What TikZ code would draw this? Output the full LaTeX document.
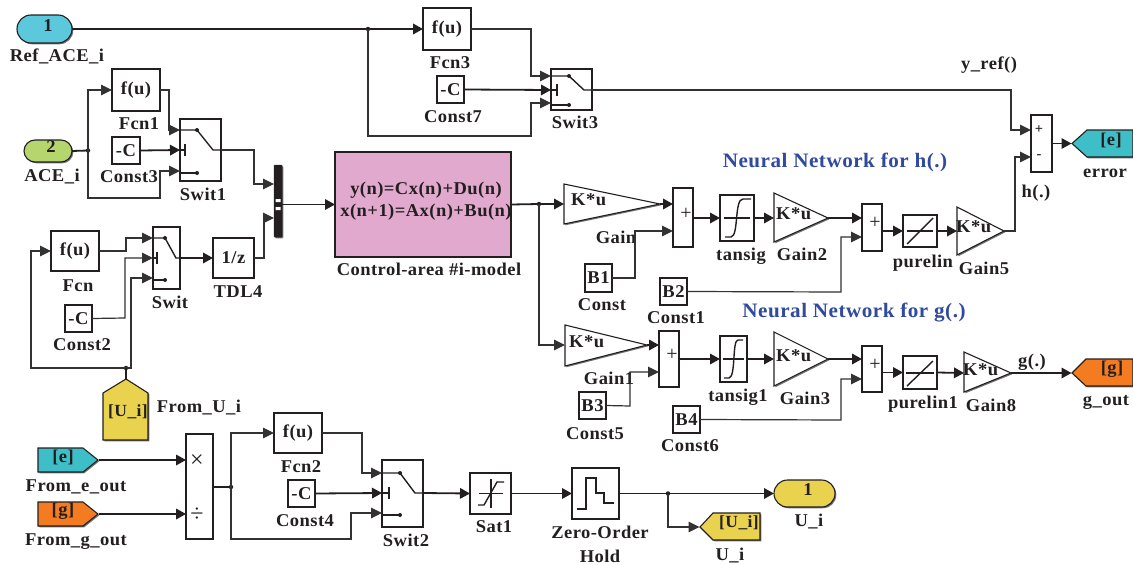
\documentclass[tikz,border=0pt]{standalone}
\usepackage{fontspec}
\setmainfont{Liberation Serif}[LetterSpace=2.5,FakeStretch=1.03]
\newfontfamily\plainf{Liberation Serif}
\usetikzlibrary{arrows.meta,shadows,calc}
\definecolor{ink}{HTML}{231F20}
\definecolor{wiregray}{HTML}{333132}
\definecolor{cyanport}{HTML}{5BC8DC}
\definecolor{greenport}{HTML}{B4D66C}
\definecolor{pinkblock}{HTML}{E1A9CE}
\definecolor{tealflag}{HTML}{3EBFC8}
\definecolor{orangeflag}{HTML}{F47B20}
\definecolor{yellowflag}{HTML}{E8D24E}
\definecolor{titleblue}{HTML}{2F4A9E}
\tikzset{
  shad/.style={drop shadow={shadow xshift=1.3pt,shadow yshift=-1.3pt,fill=black,opacity=.55}},
  blk/.style={draw=ink,line width=1.1pt,fill=white,outer sep=0pt,inner sep=0pt,shad},
  ghost/.style={inner sep=0pt,outer sep=0pt},
  poly/.style={draw=ink,line width=1.1pt,shad},
  lbl/.style={anchor=base,yshift=-6pt,inner sep=0pt},
  gtxt/.style={anchor=west,inner sep=0pt},
  wire/.style={draw=ink,line width=1.8pt},
  wirea/.style={wire,-{Triangle[length=10pt,width=10.5pt]}},
  thinw/.style={draw=wiregray,line width=1.2pt},
  thina/.style={thinw,-{Triangle[length=11pt,width=10.5pt]}},
  dot/.style={circle,fill=ink,inner sep=0pt,minimum size=4.5pt,outer sep=0pt},
  inner/.style={draw=ink,line width=1.4pt},
  every node/.style={font=\bfseries\fontsize{18}{20}\selectfont,text=ink},
  plainsym/.style={inner sep=0pt,font=\plainf\fontsize{20}{20}\selectfont},
  titlefont/.style={inner sep=0pt,text=titleblue,font=\bfseries\fontsize{20.5}{22}\selectfont},
  smallsign/.style={inner sep=0pt,font=\bfseries\fontsize{14}{14}\selectfont},
  flagtext/.style={inner sep=0pt,font=\bfseries\fontsize{17}{18}\selectfont},
}
\newcommand{\bk}[7][]{\node[blk,minimum width={(#5-#3)*1pt},minimum height={(#6-#4)*1pt},#1] (#2) at ({(#3+#5)/2},{(#4+#6)/2}) {#7};}
\newcommand{\lab}[4]{\node[lbl] (#1) at (#2,#3) {#4};}
% gain triangle: name x1 y1 x2 y2 apexy; base and apex are the west and east of a ghost node
\newcommand{\tri}[6]{\path[poly,fill=white] (#2,#3) -- (#4,#6) -- (#2,#5) -- cycle;
  \node[ghost,minimum width={(#4-#2)*1pt},minimum height=1pt] (#1) at ({(#2+#4)/2},#6) {};}
% switch frame and its ports
\newcommand{\swit}[8]{\bk{#1}{#2}{#3}{#4}{#5}{}%
  \coordinate (#1-a) at (#2,#6); \coordinate (#1-b) at (#2,#7); \coordinate (#1-c) at (#2,#8);
  \coordinate (#1-o) at (#4,#7);
  \def\swxl{#2}\def\swxr{#4}\def\swya{#6}\def\swyb{#7}\def\swyc{#8}}
% switch contact: dot x, pivot x, bar x
\newcommand{\switin}[3]{\draw[inner] (\swxl,\swya) -- (#1,\swya) -- (#2,\swyb) -- (\swxr,\swyb);
  \draw[inner] (\swxl,\swyb) -- (#3,\swyb); \draw[inner,line width=1.2pt] (#3,\swyb-6) -- (#3,\swyb+6);
  \draw[inner] (\swxl,\swyc+2) -- (#1,\swyc+2);
  \fill[ink] (#1,\swya) circle (2pt) (#1,\swyc+2) circle (2pt);}
\begin{document}
\begin{tikzpicture}[x=1pt,y=-1pt]
\useasboundingbox (0,0) rectangle (1133,565);
% ports
\node[blk,fill=cyanport,minimum width=55pt,minimum height=28pt,rounded corners=14pt] (ref) at (44.5,29) {};
\node[inner sep=0pt] (reft) at (48,26) {1};
\lab{refl}{57}{55}{Ref\_ACE\_i}
\node[blk,fill=greenport,minimum width=48pt,minimum height=22pt,rounded corners=11pt] (ace) at (48,151) {};
\node[inner sep=0pt] (acet) at (51,147) {2};
\lab{acel}{52}{175}{ACE\_i}
% function and constant blocks
\bk{fcn3}{423}{8}{471}{50}{f(u)}
\lab{fcn3l}{450}{62}{Fcn3}
\bk{c7}{437}{76}{464}{103}{-C}
\lab{c7l}{453}{116}{Const7}
\bk{fcn1}{112}{69}{160}{111}{f(u)}
\lab{fcn1l}{139}{123}{Fcn1}
\bk{c3}{112}{137}{140}{164}{-C}
\lab{c3l}{129}{176}{Const3}
\bk{fcn}{51}{231}{99}{271}{f(u)}
\lab{fcnl}{78}{285}{Fcn}
\bk{c2}{65}{305}{92}{332}{-C}
\lab{c2l}{82}{344}{Const2}
\bk{tdl}{213}{238}{254}{278}{1/z}
\lab{tdll}{238}{291}{TDL4}
\bk{fcn2}{274}{413}{322}{453}{f(u)}
\lab{fcn2l}{301}{466}{Fcn2}
\bk{c4}{288}{480}{315}{507}{-C}
\lab{c4l}{305}{520}{Const4}
% switches
\swit{sw3}{551}{69}{592}{110}{76}{90}{103}\switin{569}{584}{557}
\lab{sw3l}{575}{122}{Swit3}
\swit{sw1}{180}{119}{221}{181}{130}{150}{171}\switin{197}{213}{185}
\lab{sw1l}{203}{194}{Swit1}
\swit{sw}{153}{227}{180}{289}{238}{258}{278}\switin{165}{176}{157}
\lab{swl}{170}{302}{Swit}
\swit{sw2}{382}{460}{423}{527}{473}{493}{513}\switin{400}{415}{389}
\lab{sw2l}{406}{540}{Swit2}
% mux
\node[draw=ink,fill=ink,line width=.5pt,outer sep=0pt,inner sep=0pt,minimum width=8pt,minimum height=72pt,rounded corners=.8pt,shad] (mux) at (278,201) {};
\fill[white] (275.5,199) rectangle (280.5,202) (275.5,207) rectangle (280.5,210);
% plant
\node[draw=ink,line width=1.1pt,fill=pinkblock,outer sep=0pt,inner sep=0pt,minimum width=176pt,minimum height=105pt,shad] (plant) at (423,204.5) {};
\node[inner sep=0pt] (eq1) at (426,190) {y(n)=Cx(n)+Du(n)};
\node[inner sep=0pt] (eq2) at (426,212) {x(n+1)=Ax(n)+Bu(n)};
\lab{plantl}{429}{269}{Control-area \#i-model}
% neural network h
\node[titlefont] (t1) at (835,162) {Neural Network for h(.)};
\tri{gain}{564}{184}{660}{224}{204}
\node[gtxt] (gaint) at (571,200) {K*u};
\lab{gainl}{616}{237}{Gain}
\bk{sum1}{673}{188}{693}{247}{}
\node[plainsym] (sum1p) at (686,214) {+};
\bk{tan}{720}{195}{754}{241}{}
\draw[inner,line width=1.1pt] (724,218) -- (750,218);
\draw[inner] (725,237) -- (731,237) .. controls (739,236) and (734,199) .. (743,199) -- (751,199);
\lab{tanl}{741}{254}{tansig}
\tri{g2}{774}{193}{828}{242}{218}
\node[gtxt] (g2t) at (776,214) {K*u};
\lab{g2l}{802}{254}{Gain2}
\bk{b1}{585}{264}{612}{292}{B1}
\lab{b1l}{602}{304}{Const}
\bk{b2}{660}{278}{687}{305}{B2}
\lab{b2l}{676}{317}{Const1}
\bk{sum2}{862}{204}{882}{251}{}
\node[plainsym] (sum2p) at (875,223) {+};
\bk{pur}{903}{215}{937}{247}{}
\draw[inner,line width=1.1pt] (907,231) -- (933,231);
\draw[inner] (907,244) -- (933,218);
\lab{purl}{923}{261}{purelin}
\tri{g5}{957}{207}{1004}{255}{231}
\node[gtxt] (g5t) at (956,227) {K*u};
\lab{g5l}{984}{268}{Gain5}
\bk{sumh}{1031}{115}{1052}{172}{}
\node[smallsign] (sumhp) at (1039,130) {+};
\node[smallsign] (sumhm) at (1039,157) {-};
\lab{hl}{1036}{191}{h(.)}
\lab{yref}{989}{63}{y\_ref()}
\path[poly,fill=tealflag] (1072,143.5) -- (1087,130) -- (1133,130) -- (1133,157) -- (1087,157) -- cycle;
\node[ghost] (gotoe) at (1072,143.5) {};
\node[inner sep=0pt] (gotoet) at (1111,140) {[e]};
\lab{errl}{1105}{171}{error}
% neural network g
\node[titlefont] (t2) at (854,313) {Neural Network for g(.)};
\tri{g1}{565}{325}{647}{366}{345}
\node[gtxt] (g1t) at (569,342) {K*u};
\lab{g1l}{609}{378}{Gain1}
\bk{sum3}{659}{331}{679}{387}{}
\node[plainsym] (sum3p) at (672,355) {+};
\bk{tan1}{720}{336}{747}{382}{}
\draw[inner,line width=1.1pt] (723,359) -- (744,359);
\draw[inner] (724,378) -- (729,378) .. controls (736,377) and (732,340) .. (738,340) -- (743,340);
\lab{tan1l}{738}{395}{tansig1}
\tri{g3}{774}{332}{828}{386}{359}
\node[gtxt] (g3t) at (776,356) {K*u};
\lab{g3l}{805}{398}{Gain3}
\bk{b3}{579}{392}{606}{419}{B3}
\lab{b3l}{595}{433}{Const5}
\bk{b4}{673}{406}{700}{433}{B4}
\lab{b4l}{690}{445}{Const6}
\bk{sum4}{862}{346}{882}{392}{}
\node[plainsym] (sum4p) at (875,365) {+};
\bk{pur1}{903}{356}{937}{389}{}
\draw[inner,line width=1.1pt] (906,373) -- (934,373);
\draw[inner] (907,386) -- (933,361);
\lab{pur1l}{923}{402}{purelin1}
\tri{g8}{964}{352}{1011}{392}{373}
\node[gtxt] (g8t) at (963,370) {K*u};
\lab{g8l}{991}{405}{Gain8}
\lab{gdl}{1032}{360}{g(.)}
\path[poly,fill=orangeflag] (1072,373) -- (1086,359) -- (1133,359) -- (1133,386) -- (1086,386) -- cycle;
\node[ghost] (gotog) at (1072,373) {};
\node[inner sep=0pt] (gotogt) at (1112,369) {[g]};
\lab{goutl}{1106}{399}{g\_out}
% From flags
\path[poly,fill=yellowflag] (126,379) -- (148,393) -- (148,440) -- (103,440) -- (103,393) -- cycle;
\node[ghost] (fromu) at (126,379) {};
\node[flagtext] (fromut) at (128,412) {[U\_i]};
\node[lbl] (fromul) at (199,406) {From\_U\_i};
\path[poly,fill=tealflag] (38,448) -- (83,448) -- (98,460) -- (83,472) -- (38,472) -- cycle;
\node[ghost] (frome) at (98,460) {};
\node[inner sep=0pt] (fromet) at (63,457) {[e]};
\lab{fromel}{76}{485}{From\_e\_out}
\path[poly,fill=orangeflag] (38,502) -- (83,502) -- (98,514) -- (83,526) -- (38,526) -- cycle;
\node[ghost] (fromg) at (98,514) {};
\node[inner sep=0pt] (fromgt) at (63,511) {[g]};
\lab{fromgl}{76}{539}{From\_g\_out}
% product
\bk{prod}{186}{434}{213}{539}{}
\node[plainsym,font=\plainf\fontsize{24}{24}\selectfont] (prodx) at (197,461) {×};
\node[plainsym,font=\plainf\fontsize{24}{24}\selectfont] (prodd) at (197,515) {÷};
% saturation
\bk{sat}{470}{473}{511}{514}{}
\draw[inner,line width=1.1pt] (479,493.5) -- (503,493.5) (491,479) -- (491,508);
\draw[inner] (478,505) -- (484,505) -- (497,482) -- (504,482);
\lab{satl}{494}{526}{Sat1}
% zero-order hold
\bk{zoh}{572}{468}{619}{519}{}
\draw[inner] (577,509) -- (586,509) -- (586,478) -- (596,478) -- (596,493) -- (604,493) -- (604,503) -- (614,503);
\lab{zohl}{600}{532}{Zero-Order}
\lab{zohm}{600}{556}{Hold}
% outport and goto U_i
\node[blk,fill=yellowflag,minimum width=61pt,minimum height=27pt,rounded corners=13.5pt] (out) at (804.5,493.5) {};
\node[inner sep=0pt] (outt) at (808,490) {1};
\lab{outl}{809}{520}{U\_i}
\path[poly,fill=yellowflag] (700,527) -- (713,513) -- (760,513) -- (760,540) -- (713,540) -- cycle;
\node[ghost] (gotou) at (700,527) {};
\node[flagtext] (gotout) at (739,523) {[U\_i]};
\lab{gotoul}{730}{554}{U\_i}
% junctions
\node[dot] (j1) at (368,29) {};
\node[dot] (j2) at (88,150.5) {};
\node[dot] (j3) at (126,368) {};
\node[dot] (j4) at (539,204) {};
\node[dot] (j5) at (231,487) {};
\node[dot] (j6) at (668,493.5) {};
\coordinate (muxa) at (274,184);
\coordinate (muxb) at (274,218);
% connectors: top
\draw[wire] (ref.east) -- (j1.center);
\draw[wirea] (j1.center) -- (fcn3.west);
\draw[thina] (j1.center) |- (531,136) -- (531,103) -- (sw3-c);
\draw[thina] (fcn3.east) -- (531,29) -- (531,76) -- (sw3-a);
\draw[wirea] (c7.east) -- (sw3-b);
\draw[thina] (sw3-o) -- (1011,90) -- (1011,130) -- (sumh.west |- 1011,130);
\draw[thina] (g5.east) -- (1015,231) -- (1015,157) -- (sumh.west |- 1015,157);
\draw[wirea] (sumh.east) -- (gotoe);
% ACE branch
\draw[wire] (ace.east) -- (j2.center);
\draw[thina] (j2.center) |- (fcn1.west);
\draw[thina] (j2.center) |- (160,198) -- (160,171) -- (sw1-c);
\draw[thina] (fcn1.east) -- (169,90) -- (169,130) -- (sw1-a);
\draw[wirea] (c3.east) -- (sw1-b);
\draw[thina] (sw1-o) -- (254,150) -- (254,184) -- (muxa);
% U branch
\draw[thina] (fcn.east) -- (126,251) -- (126,238) -- (sw-a);
\draw[thina] (c2.east) -- (125,318) -- (125,258) -- (sw-b);
\draw[thina] (j3.center) -- (131,368) -- (131,278) -- (sw-c);
\draw[thina] (j3.center) -- (31,368) -- (31,251) -- (fcn.west);
\draw[wire] (fromu.center) -- (j3.center);
\draw[wirea] (sw-o) -- (tdl.west);
\draw[thina] (tdl.east) -- (264,258) -- (264,218) -- (muxb);
\draw[wirea] (mux.east |- plant.west) -- (plant.west);
% plant out
\draw[wire] (plant.east) -- (j4.center);
\draw[wirea] (j4.center) -- (gain.west);
\draw[thina] (j4.center) |- (g1.west);
% h network
\draw[wirea] (gain.east) -- (sum1.west |- gain.east);
\draw[thina] (b1.east) -- (635,278) -- (635,231) -- (sum1.west |- 635,231);
\draw[wirea] (sum1.east |- tan.west) -- (tan.west);
\draw[wirea] (tan.east) -- (g2.west);
\draw[wirea] (g2.east) -- (sum2.west |- g2.east);
\draw[thina] (b2.east) -- (841,292) -- (841,237) -- (sum2.west |- 841,237);
\draw[wirea] (sum2.east |- pur.west) -- (pur.west);
\draw[wirea] (pur.east) -- (g5.west);
% g network
\draw[wirea] (g1.east) -- (sum3.west |- g1.east);
\draw[thina] (b3.east) -- (630,406) -- (630,372) -- (sum3.west |- 630,372);
\draw[wirea] (sum3.east |- tan1.west) -- (tan1.west);
\draw[wirea] (tan1.east) -- (g3.west);
\draw[wirea] (g3.east) -- (sum4.west |- g3.east);
\draw[thina] (b4.east) -- (841,420) -- (841,379) -- (sum4.west |- 841,379);
\draw[wirea] (sum4.east |- pur1.west) -- (pur1.west);
\draw[wirea] (pur1.east) -- (g8.west);
\draw[wirea] (g8.east) -- (gotog);
% bottom
\draw[wirea] (frome) -- (prod.west |- frome);
\draw[wirea] (fromg) -- (prod.west |- fromg);
\draw[wire] (prod.east |- j5) -- (j5.center);
\draw[thina] (j5.center) |- (fcn2.west);
\draw[thina] (j5.center) |- (351,539) -- (351,513) -- (sw2-c);
\draw[thina] (fcn2.east) -- (362,433) -- (362,473) -- (sw2-a);
\draw[wirea] (c4.east) -- (sw2-b);
\draw[wirea] (sw2-o) -- (sat.west);
\draw[wirea] (sat.east) -- (zoh.west);
\draw[wire] (zoh.east) -- (j6.center);
\draw[wirea] (j6.center) -- (out.west);
\draw[thina] (j6.center) |- (gotou);
\end{tikzpicture}
\end{document}
